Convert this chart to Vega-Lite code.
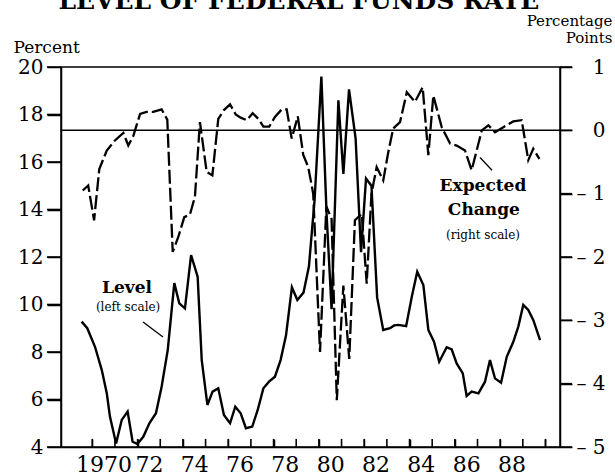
{
  "$schema": "https://vega.github.io/schema/vega-lite/v6.json",
  "width": 499,
  "height": 380,
  "autosize": {"type": "none"},
  "padding": {"left": 61, "top": 67, "right": 55, "bottom": 29},
  "background": "white",
  "config": {
    "view": {"stroke": "black", "strokeWidth": 1.5},
    "font": "DejaVu Serif",
    "axis": {"labelFont": "DejaVu Serif", "titleFont": "DejaVu Serif", "domainColor": "black", "labelColor": "black", "titleColor": "black", "grid": false, "domainWidth": 1.5}
  },
  "datasets": {
    "level": [
      {"t": 1969.53, "v": 9.28}, {"t": 1969.78, "v": 9.0}, {"t": 1970.12, "v": 8.22}, {"t": 1970.42, "v": 7.24},
      {"t": 1970.64, "v": 6.26}, {"t": 1970.78, "v": 5.28}, {"t": 1971.05, "v": 4.15}, {"t": 1971.3, "v": 5.14},
      {"t": 1971.56, "v": 5.49}, {"t": 1971.78, "v": 4.22}, {"t": 1971.99, "v": 4.13}, {"t": 1972.25, "v": 4.43},
      {"t": 1972.52, "v": 5.0}, {"t": 1972.81, "v": 5.42}, {"t": 1973.06, "v": 6.54}, {"t": 1973.33, "v": 8.08},
      {"t": 1973.62, "v": 10.9}, {"t": 1973.84, "v": 10.05}, {"t": 1974.09, "v": 9.84}, {"t": 1974.36, "v": 12.08},
      {"t": 1974.65, "v": 11.17}, {"t": 1974.83, "v": 7.66}, {"t": 1975.08, "v": 5.77}, {"t": 1975.31, "v": 6.33},
      {"t": 1975.56, "v": 6.47}, {"t": 1975.81, "v": 5.35}, {"t": 1976.08, "v": 5.0}, {"t": 1976.31, "v": 5.7},
      {"t": 1976.55, "v": 5.42}, {"t": 1976.78, "v": 4.79}, {"t": 1977.06, "v": 4.86}, {"t": 1977.3, "v": 5.56},
      {"t": 1977.55, "v": 6.47}, {"t": 1977.8, "v": 6.75}, {"t": 1978.06, "v": 6.96}, {"t": 1978.31, "v": 7.66},
      {"t": 1978.55, "v": 8.7}, {"t": 1978.81, "v": 10.72}, {"t": 1979.05, "v": 10.19}, {"t": 1979.32, "v": 10.5},
      {"t": 1979.56, "v": 11.6}, {"t": 1979.81, "v": 14.4}, {"t": 1980.11, "v": 19.6}, {"t": 1980.34, "v": 13.8},
      {"t": 1980.56, "v": 9.8}, {"t": 1980.86, "v": 18.6}, {"t": 1981.08, "v": 15.5}, {"t": 1981.33, "v": 19.06},
      {"t": 1981.62, "v": 17.0}, {"t": 1981.86, "v": 12.2}, {"t": 1982.08, "v": 15.3}, {"t": 1982.32, "v": 15.0},
      {"t": 1982.57, "v": 10.3}, {"t": 1982.84, "v": 8.93}, {"t": 1983.14, "v": 9.0}, {"t": 1983.32, "v": 9.12},
      {"t": 1983.51, "v": 9.14}, {"t": 1983.85, "v": 9.09}, {"t": 1984.1, "v": 10.33}, {"t": 1984.34, "v": 11.38},
      {"t": 1984.61, "v": 10.82}, {"t": 1984.83, "v": 8.93}, {"t": 1985.08, "v": 8.43}, {"t": 1985.31, "v": 7.59},
      {"t": 1985.64, "v": 8.2}, {"t": 1985.86, "v": 8.11}, {"t": 1986.08, "v": 7.52}, {"t": 1986.35, "v": 7.1},
      {"t": 1986.52, "v": 6.15}, {"t": 1986.74, "v": 6.33}, {"t": 1987.04, "v": 6.26}, {"t": 1987.33, "v": 6.75},
      {"t": 1987.55, "v": 7.66}, {"t": 1987.77, "v": 6.89}, {"t": 1988.04, "v": 6.71}, {"t": 1988.29, "v": 7.8},
      {"t": 1988.58, "v": 8.43}, {"t": 1988.8, "v": 9.07}, {"t": 1989.02, "v": 9.98}, {"t": 1989.24, "v": 9.77},
      {"t": 1989.46, "v": 9.35}, {"t": 1989.76, "v": 8.5}
    ],
    "expected": [
      {"t": 1969.58, "v": -0.95}, {"t": 1969.82, "v": -0.87}, {"t": 1970.08, "v": -1.42}, {"t": 1970.31, "v": -0.61},
      {"t": 1970.64, "v": -0.32}, {"t": 1971.0, "v": -0.16}, {"t": 1971.37, "v": -0.04}, {"t": 1971.59, "v": -0.24},
      {"t": 1971.81, "v": -0.09}, {"t": 1972.11, "v": 0.26}, {"t": 1972.4, "v": 0.29}, {"t": 1972.69, "v": 0.29},
      {"t": 1973.06, "v": 0.33}, {"t": 1973.31, "v": 0.17}, {"t": 1973.55, "v": -1.92}, {"t": 1973.8, "v": -1.68},
      {"t": 1974.06, "v": -1.37}, {"t": 1974.31, "v": -1.33}, {"t": 1974.53, "v": -1.05}, {"t": 1974.75, "v": 0.13},
      {"t": 1975.05, "v": -0.66}, {"t": 1975.3, "v": -0.71}, {"t": 1975.56, "v": 0.18}, {"t": 1975.81, "v": 0.32},
      {"t": 1976.08, "v": 0.41}, {"t": 1976.33, "v": 0.25}, {"t": 1976.55, "v": 0.2}, {"t": 1976.82, "v": 0.16},
      {"t": 1977.08, "v": 0.27}, {"t": 1977.33, "v": 0.18}, {"t": 1977.55, "v": 0.06}, {"t": 1977.81, "v": 0.06},
      {"t": 1978.06, "v": 0.21}, {"t": 1978.36, "v": 0.33}, {"t": 1978.58, "v": 0.33}, {"t": 1978.8, "v": -0.13},
      {"t": 1979.07, "v": 0.22}, {"t": 1979.31, "v": -0.39}, {"t": 1979.53, "v": -0.58}, {"t": 1979.75, "v": -1.0},
      {"t": 1980.05, "v": -3.5}, {"t": 1980.33, "v": -1.2}, {"t": 1980.56, "v": -1.4}, {"t": 1980.79, "v": -4.26},
      {"t": 1981.08, "v": -2.45}, {"t": 1981.34, "v": -3.61}, {"t": 1981.59, "v": -1.42}, {"t": 1981.89, "v": -1.32},
      {"t": 1982.11, "v": -2.42}, {"t": 1982.32, "v": -1.0}, {"t": 1982.55, "v": -0.58}, {"t": 1982.84, "v": -0.79},
      {"t": 1983.06, "v": -0.35}, {"t": 1983.28, "v": 0.03}, {"t": 1983.58, "v": 0.13}, {"t": 1983.88, "v": 0.6},
      {"t": 1984.24, "v": 0.45}, {"t": 1984.58, "v": 0.68}, {"t": 1984.83, "v": -0.39}, {"t": 1985.05, "v": 0.55},
      {"t": 1985.42, "v": 0.05}, {"t": 1985.79, "v": -0.21}, {"t": 1986.08, "v": -0.24}, {"t": 1986.45, "v": -0.32},
      {"t": 1986.74, "v": -0.63}, {"t": 1987.19, "v": 0.0}, {"t": 1987.48, "v": 0.08}, {"t": 1987.77, "v": -0.03},
      {"t": 1988.14, "v": 0.05}, {"t": 1988.58, "v": 0.14}, {"t": 1988.95, "v": 0.16}, {"t": 1989.24, "v": -0.47},
      {"t": 1989.46, "v": -0.29}, {"t": 1989.73, "v": -0.45}
    ],
    "one": [{}],
    "xticks": [
      {"yr": 1970}, {"yr": 1971}, {"yr": 1972}, {"yr": 1973}, {"yr": 1974}, {"yr": 1975}, {"yr": 1976},
      {"yr": 1977}, {"yr": 1978}, {"yr": 1979}, {"yr": 1980}, {"yr": 1981}, {"yr": 1982}, {"yr": 1983},
      {"yr": 1984}, {"yr": 1985}, {"yr": 1986}, {"yr": 1987}, {"yr": 1988}, {"yr": 1989}, {"yr": 1990}
    ],
    "lticks": [{"p": 4}, {"p": 6}, {"p": 8}, {"p": 10}, {"p": 12}, {"p": 14}, {"p": 16}, {"p": 18}, {"p": 20}],
    "rticks": [{"p": -5}, {"p": -4}, {"p": -3}, {"p": -2}, {"p": -1}, {"p": 0}, {"p": 1}]
  },
  "layer": [
    {
      "layer": [
        {
          "data": {"name": "level"},
          "mark": {"type": "line", "color": "black", "strokeWidth": 2.4, "strokeJoin": "miter", "strokeMiterLimit": 4},
          "encoding": {
            "x": {"field": "t", "type": "quantitative",
              "scale": {"domain": [1968.62, 1990.64], "nice": false, "zero": false},
              "axis": {"title": null, "values": [1970, 1971, 1972, 1973, 1974, 1975, 1976, 1977, 1978, 1979, 1980, 1981, 1982, 1983, 1984, 1985, 1986, 1987, 1988, 1989, 1990],
                "ticks": true, "tickColor": "#000000", "tickWidth": 1.5, "tickOpacity": 1, "tickSize": -8, "labelPadding": 15, "labelOffset": 11.3, "labelFontSize": 22, "labelFlush": false, "labelOverlap": false, "labelBound": false,
                "labelExpr": "datum.value % 2 == 0 && datum.value < 1990 ? (datum.value == 1970 ? '1970' : substring(toString(datum.value), 2)) : ''"}},
            "y": {"field": "v", "type": "quantitative",
              "scale": {"domain": [4, 20], "nice": false, "zero": false},
              "axis": {"orient": "left", "values": [4, 6, 8, 10, 12, 14, 16, 18, 20], "ticks": true, "tickColor": "#000000", "tickWidth": 1.5, "tickOpacity": 1, "tickSize": 14, "labelPadding": 4, "labelFontSize": 20,
                "title": "Percent", "titleAngle": 0, "titleAlign": "left", "titleBaseline": "alphabetic", "titleX": -48, "titleY": -15,
                "titleFontSize": 17, "titleFontWeight": "normal"}}
          }
        },
        {
          "data": {"name": "xticks"},
          "mark": {"type": "rule", "color": "black", "strokeWidth": 1.6},
          "encoding": {"x": {"field": "yr", "type": "quantitative"}, "y": {"datum": 4, "type": "quantitative"}, "y2": {"datum": 4.34}}
        },
        {
          "data": {"name": "lticks"},
          "mark": {"type": "rule", "color": "black", "strokeWidth": 1.6},
          "encoding": {"y": {"field": "p", "type": "quantitative"}, "x": {"datum": 1968.0, "type": "quantitative"}, "x2": {"datum": 1968.62}}
        },
        {
          "data": {"name": "one"},
          "mark": {"type": "text", "font": "DejaVu Serif", "fontSize": 17, "fontWeight": "bold", "align": "center", "baseline": "alphabetic", "color": "black"},
          "encoding": {"x": {"datum": 1971.53, "type": "quantitative"}, "y": {"datum": 10.48, "type": "quantitative"}, "text": {"value": "Level"}}
        },
        {
          "data": {"name": "one"},
          "mark": {"type": "text", "font": "DejaVu Serif", "fontSize": 12, "align": "center", "baseline": "alphabetic", "color": "black"},
          "encoding": {"x": {"datum": 1971.58, "type": "quantitative"}, "y": {"datum": 9.73, "type": "quantitative"}, "text": {"value": "(left scale)"}}
        },
        {
          "data": {"name": "one"},
          "mark": {"type": "rule", "color": "black", "strokeWidth": 1.3},
          "encoding": {"x": {"datum": 1972.24, "type": "quantitative"}, "x2": {"datum": 1973.12}, "y": {"datum": 9.26, "type": "quantitative"}, "y2": {"datum": 8.63}}
        },
        {
          "data": {"name": "one"},
          "mark": {"type": "text", "font": "DejaVu Serif", "fontSize": 25, "fontWeight": "bold", "align": "center", "baseline": "alphabetic", "color": "black"},
          "encoding": {"x": {"datum": 1979.12, "type": "quantitative"}, "y": {"datum": 22.44, "type": "quantitative"}, "text": {"value": "LEVEL OF FEDERAL FUNDS RATE"}}
        }
      ]
    },
    {
      "layer": [
        {
          "data": {"name": "one"},
          "mark": {"type": "rule", "color": "black", "strokeWidth": 1.5},
          "encoding": {"y": {"datum": 0, "type": "quantitative"}}
        },
        {
          "data": {"name": "rticks"},
          "mark": {"type": "rule", "color": "black", "strokeWidth": 1.6},
          "encoding": {"y": {"field": "p", "type": "quantitative"}, "x": {"datum": 1990.64, "type": "quantitative"}, "x2": {"datum": 1991.17}}
        },
        {
          "data": {"name": "expected"},
          "mark": {"type": "line", "color": "black", "strokeWidth": 2.3, "strokeDash": [14, 4]},
          "encoding": {
            "x": {"field": "t", "type": "quantitative"},
            "y": {"field": "v", "type": "quantitative",
              "scale": {"domain": [-5, 1], "nice": false, "zero": false},
              "axis": {"orient": "right", "values": [-5, -4, -3, -2, -1, 0, 1], "ticks": true, "tickColor": "#000000", "tickWidth": 1.5, "tickOpacity": 1, "tickSize": 12, "labelPadding": 33, "labelAlign": "right", "labelFontSize": 20,
                "labelExpr": "datum.value < 0 ? '– ' + toString(-datum.value) : toString(datum.value)",
                "title": ["Percentage", "Points"], "titleAngle": 0, "titleAlign": "right", "titleBaseline": "alphabetic", "titleX": 52, "titleY": -42,
                "titleFontSize": 15, "titleFontWeight": "normal", "titleLineHeight": 17}}
          }
        },
        {
          "data": {"name": "one"},
          "mark": {"type": "text", "font": "DejaVu Serif", "fontSize": 17, "fontWeight": "bold", "align": "center", "baseline": "alphabetic", "color": "black"},
          "encoding": {"x": {"datum": 1987.24, "type": "quantitative"}, "y": {"datum": -0.96, "type": "quantitative"}, "text": {"value": "Expected"}}
        },
        {
          "data": {"name": "one"},
          "mark": {"type": "text", "font": "DejaVu Serif", "fontSize": 17, "fontWeight": "bold", "align": "center", "baseline": "alphabetic", "color": "black"},
          "encoding": {"x": {"datum": 1987.28, "type": "quantitative"}, "y": {"datum": -1.34, "type": "quantitative"}, "text": {"value": "Change"}}
        },
        {
          "data": {"name": "one"},
          "mark": {"type": "text", "font": "DejaVu Serif", "fontSize": 12, "align": "center", "baseline": "alphabetic", "color": "black"},
          "encoding": {"x": {"datum": 1987.24, "type": "quantitative"}, "y": {"datum": -1.72, "type": "quantitative"}, "text": {"value": "(right scale)"}}
        },
        {
          "data": {"name": "one"},
          "mark": {"type": "rule", "color": "black", "strokeWidth": 1.3},
          "encoding": {"x": {"datum": 1987.11, "type": "quantitative"}, "x2": {"datum": 1987.64}, "y": {"datum": -0.43, "type": "quantitative"}, "y2": {"datum": -0.63}}
        }
      ]
    }
  ],
  "resolve": {"scale": {"y": "independent"}, "axis": {"y": "independent"}}
}
